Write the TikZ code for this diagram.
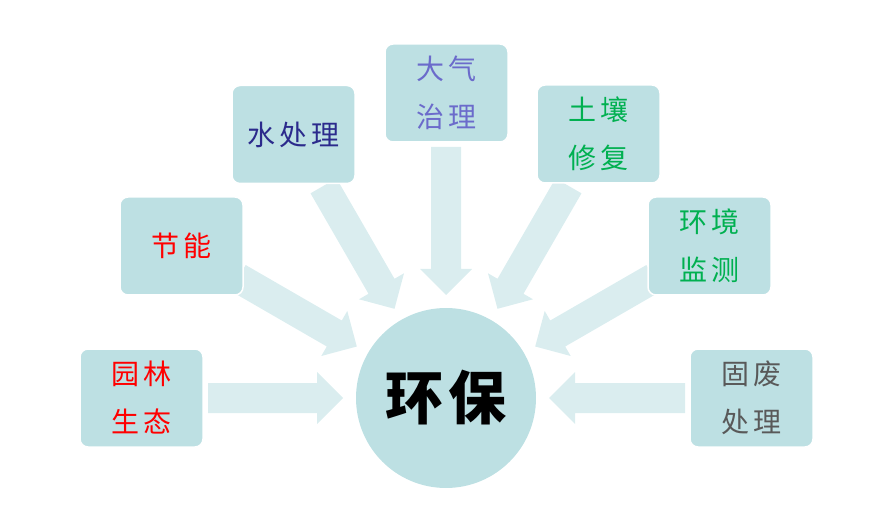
\documentclass[tikz,border=0pt]{standalone}
\usepackage{fontspec}
\newfontfamily\cjk{Noto Sans CJK SC}
\definecolor{boxfill}{HTML}{BDE0E3}
\definecolor{arrowfill}{HTML}{DAEDEF}
\definecolor{tred}{HTML}{FF0000}
\definecolor{tnavy}{HTML}{2B2A8C}
\definecolor{tviolet}{HTML}{6B6BCB}
\definecolor{tgreen}{HTML}{00B050}
\definecolor{tgray}{HTML}{595959}
\newcommand{\gk}{\hspace{4pt}}
\newcommand{\blkarrow}[2]{%
  \fill[arrowfill, shift={(c.center)}, rotate=#1]
    (#2,-15) -- (129,-15) -- (129,-26) -- (103,0) -- (129,26) -- (129,15) -- (#2,15) -- cycle;}
\begin{document}
\begin{tikzpicture}[x=1pt,y=-1pt,
  box/.style={draw=white, line width=1.5pt, fill=boxfill, rounded corners=8pt,
    minimum width=123pt, minimum height=98pt, inner sep=0pt, align=center,
    font=\cjk\fontsize{28}{48}\selectfont},
  hub/.style={circle, fill=boxfill, minimum size=180pt, inner sep=0pt,
    font=\cjk\bfseries\fontsize{58}{60}\selectfont}]
\useasboundingbox (0,0) rectangle (876,505);
% hub
\node[hub] (c) at (446,398) {};
% arrows
\blkarrow{180}{238}
\blkarrow{150}{240}
\blkarrow{120}{245}
\blkarrow{90}{251}
\blkarrow{60}{245}
\blkarrow{30}{240}
\blkarrow{0}{239}
% boxes
\node[box, text=tred]    (yl) at (141.5,398) {园\gk 林\\生\gk 态};
\node[box, text=tred]    (jn) at (181.5,246) {节\gk 能};
\node[box, text=tnavy]   (sc) at (293.5,134.5) {水\gk 处\gk 理};
\node[box, text=tviolet] (dq) at (446.5,93) {大\gk 气\\治\gk 理};
\node[box, text=tgreen]  (tr) at (598.5,134) {土\gk 壤\\修\gk 复};
\node[box, text=tgreen]  (hj) at (709.5,246) {环\gk 境\\监\gk 测};
\node[box, text=tgray]   (gf) at (751.5,398) {固\gk 废\\处\gk 理};
% hub text
\node[font=\cjk\bfseries\fontsize{58}{60}\selectfont, text=black] (ct) at (c.center) {环\hspace{5pt}保};
\end{tikzpicture}
\end{document}
